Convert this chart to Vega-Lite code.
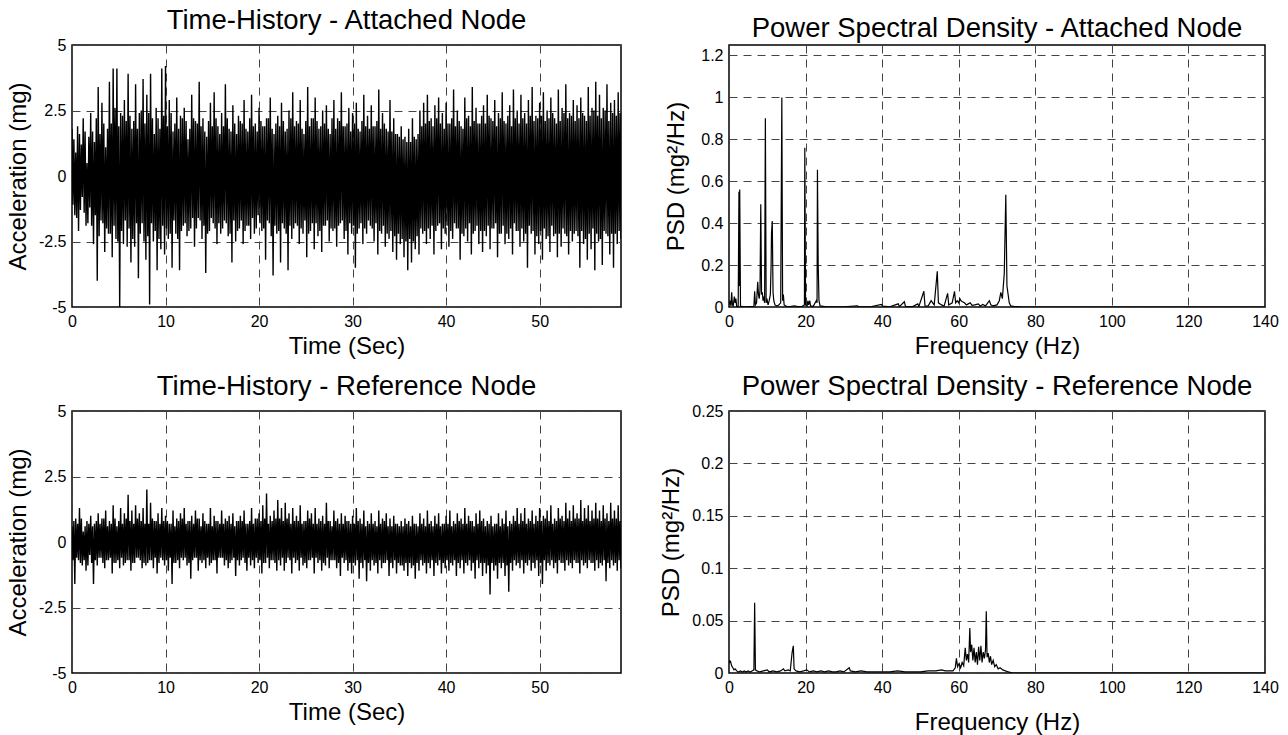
{
"$schema":"https://vega.github.io/schema/vega-lite/v6.json",
"background":"white",
"padding":{"left":5,"top":5,"right":5,"bottom":5},
"config":{
 "font":"Liberation Sans",
 "view":{"stroke":"black","strokeWidth":1.5},
 "axis":{"domain":false,"ticks":false,"grid":true,"gridDash":[8,6],"gridColor":"#444","gridWidth":1,"labelFont":"Liberation Sans","labelFontSize":16,"labelColor":"black","labelFlush":false,"labelOverlap":false,"titleFont":"Liberation Sans","titleFontSize":24,"titleFontWeight":"normal","titleColor":"black","labelPadding":6,"titlePadding":8,"labelExpr":"replace(format(datum.value,'~g'),'−','-')"},
 "axisX":{"titlePadding":5},
 "title":{"font":"Liberation Sans","fontSize":27.5,"fontWeight":"normal","color":"black","offset":3,"anchor":"middle"}
},
"datasets":{
"th":[
{"t":0,"a":1.8,"r":0.6},{"t":0.1,"a":-1.1,"r":-0.7},{"t":0.2,"a":1.4,"r":0.8},{"t":0.3,"a":-1.5,"r":-1.6},{"t":0.4,"a":0.9,"r":0.9},{"t":0.5,"a":-1.6,"r":-0.6},{"t":0.6,"a":1.9,"r":0.7},{"t":0.7,"a":-2.1,"r":-0.7},{"t":0.8,"a":1.6,"r":1.3},{"t":0.9,"a":-1.3,"r":-0.8},{"t":1,"a":1.2,"r":0.9},{"t":1.1,"a":-0.8,"r":-0.9},{"t":1.2,"a":2.2,"r":0.4},{"t":1.3,"a":-1.4,"r":-0.7},{"t":1.4,"a":1.7,"r":0.6},{"t":1.5,"a":-1.9,"r":-1.1},{"t":1.6,"a":0.5,"r":0.8},{"t":1.7,"a":-1.8,"r":-0.9},{"t":1.8,"a":1.5,"r":0.7},{"t":1.9,"a":-1.2,"r":-0.5},
{"t":2,"a":2.4,"r":1.0},{"t":2.1,"a":-1.9,"r":-0.8},{"t":2.2,"a":1.7,"r":0.6},{"t":2.3,"a":-2.6,"r":-1.6},{"t":2.4,"a":1.3,"r":0.7},{"t":2.5,"a":-1.5,"r":-0.7},{"t":2.6,"a":2.2,"r":0.8},{"t":2.7,"a":-4.0,"r":-0.9},{"t":2.8,"a":3.4,"r":1.1},{"t":2.9,"a":-2.3,"r":-0.6},{"t":3,"a":1.6,"r":0.7},{"t":3.1,"a":-1.7,"r":-0.6},{"t":3.2,"a":2.8,"r":0.9},{"t":3.3,"a":-1.8,"r":-0.8},{"t":3.4,"a":2.0,"r":0.9},{"t":3.5,"a":-2.9,"r":-1.0},{"t":3.6,"a":1.1,"r":1.2},{"t":3.7,"a":-2.0,"r":-0.7},{"t":3.8,"a":1.8,"r":0.6},{"t":3.9,"a":-2.2,"r":-0.7},
{"t":4,"a":3.6,"r":0.8},{"t":4.1,"a":-2.2,"r":-0.6},{"t":4.2,"a":2.0,"r":0.7},{"t":4.3,"a":-3.1,"r":-1.2},{"t":4.4,"a":4.1,"r":1.4},{"t":4.5,"a":-1.9,"r":-0.8},{"t":4.6,"a":2.6,"r":0.9},{"t":4.7,"a":-2.4,"r":-0.8},{"t":4.8,"a":4.1,"r":0.6},{"t":4.9,"a":-2.5,"r":-0.7},{"t":5,"a":1.9,"r":0.8},{"t":5.1,"a":-5.0,"r":-1.0},{"t":5.2,"a":2.4,"r":1.3},{"t":5.3,"a":-2.1,"r":-0.6},{"t":5.4,"a":2.3,"r":0.7},{"t":5.5,"a":-2.6,"r":-0.9},{"t":5.6,"a":2.9,"r":1.1},{"t":5.7,"a":-1.7,"r":-0.8},{"t":5.8,"a":2.1,"r":0.9},{"t":5.9,"a":-2.7,"r":-0.7},
{"t":6,"a":3.9,"r":1.8},{"t":6.1,"a":-2.0,"r":-0.7},{"t":6.2,"a":2.3,"r":0.8},{"t":6.3,"a":-3.3,"r":-1.1},{"t":6.4,"a":1.8,"r":1.2},{"t":6.5,"a":-2.4,"r":-0.8},{"t":6.6,"a":2.1,"r":0.7},{"t":6.7,"a":-2.7,"r":-0.8},{"t":6.8,"a":3.5,"r":1.4},{"t":6.9,"a":-1.8,"r":-0.6},{"t":7,"a":1.8,"r":0.9},{"t":7.1,"a":-3.9,"r":-0.6},{"t":7.2,"a":2.4,"r":1.1},{"t":7.3,"a":-2.2,"r":-0.7},{"t":7.4,"a":2.5,"r":0.8},{"t":7.5,"a":-1.8,"r":-1.0},{"t":7.6,"a":3.7,"r":1.3},{"t":7.7,"a":-2.5,"r":-0.8},{"t":7.8,"a":2.0,"r":0.7},{"t":7.9,"a":-3.2,"r":-0.9},
{"t":8,"a":3.1,"r":2.0},{"t":8.1,"a":-2.3,"r":-0.8},{"t":8.2,"a":2.4,"r":0.7},{"t":8.3,"a":-4.9,"r":-0.7},{"t":8.4,"a":3.9,"r":1.5},{"t":8.5,"a":-1.8,"r":-0.7},{"t":8.6,"a":2.2,"r":0.9},{"t":8.7,"a":-2.5,"r":-1.0},{"t":8.8,"a":1.6,"r":0.8},{"t":8.9,"a":-2.1,"r":-0.6},{"t":9,"a":2.6,"r":0.8},{"t":9.1,"a":-3.6,"r":-1.2},{"t":9.2,"a":2.2,"r":1.1},{"t":9.3,"a":-2.4,"r":-0.8},{"t":9.4,"a":1.8,"r":0.7},{"t":9.5,"a":-2.8,"r":-0.6},{"t":9.6,"a":4.1,"r":1.3},{"t":9.7,"a":-1.9,"r":-0.7},{"t":9.8,"a":2.3,"r":0.8},{"t":9.9,"a":-3.0,"r":-0.9},
{"t":10,"a":4.2,"r":1.0},{"t":10.1,"a":-2.0,"r":-0.7},{"t":10.2,"a":1.9,"r":0.8},{"t":10.3,"a":-2.4,"r":-1.1},{"t":10.4,"a":2.9,"r":0.7},{"t":10.5,"a":-2.2,"r":-0.6},{"t":10.6,"a":2.4,"r":0.7},{"t":10.7,"a":-3.5,"r":-1.6},{"t":10.8,"a":1.7,"r":1.2},{"t":10.9,"a":-1.7,"r":-0.8},{"t":11,"a":2.0,"r":0.6},{"t":11.1,"a":-2.2,"r":-0.8},{"t":11.2,"a":3.0,"r":0.9},{"t":11.3,"a":-2.4,"r":-0.7},{"t":11.4,"a":1.8,"r":0.8},{"t":11.5,"a":-3.6,"r":-1.0},{"t":11.6,"a":2.3,"r":1.1},{"t":11.7,"a":-2.1,"r":-0.6},{"t":11.8,"a":2.2,"r":0.9},{"t":11.9,"a":-1.9,"r":-0.7},
{"t":12,"a":2.6,"r":1.3},{"t":12.1,"a":-1.8,"r":-0.6},{"t":12.2,"a":2.1,"r":0.7},{"t":12.3,"a":-2.3,"r":-0.9},{"t":12.4,"a":1.4,"r":0.8},{"t":12.5,"a":-2.1,"r":-0.8},{"t":12.6,"a":1.8,"r":0.8},{"t":12.7,"a":-2.0,"r":-1.4},{"t":12.8,"a":3.1,"r":1.0},{"t":12.9,"a":-1.6,"r":-0.7},{"t":13,"a":2.2,"r":0.7},{"t":13.1,"a":-2.7,"r":-0.6},{"t":13.2,"a":2.1,"r":1.2},{"t":13.3,"a":-2.0,"r":-0.6},{"t":13.4,"a":2.0,"r":0.9},{"t":13.5,"a":-1.6,"r":-1.1},{"t":13.6,"a":3.6,"r":0.9},{"t":13.7,"a":-1.7,"r":-0.7},{"t":13.8,"a":1.9,"r":0.6},{"t":13.9,"a":-2.4,"r":-0.8},
{"t":14,"a":2.2,"r":1.1},{"t":14.1,"a":-1.9,"r":-0.7},{"t":14.2,"a":1.7,"r":0.8},{"t":14.3,"a":-3.7,"r":-1.0},{"t":14.4,"a":1.5,"r":0.7},{"t":14.5,"a":-2.2,"r":-0.6},{"t":14.6,"a":2.1,"r":0.7},{"t":14.7,"a":-2.1,"r":-0.9},{"t":14.8,"a":2.8,"r":1.3},{"t":14.9,"a":-1.6,"r":-0.8},{"t":15,"a":1.9,"r":0.6},{"t":15.1,"a":-1.8,"r":-0.7},{"t":15.2,"a":3.2,"r":1.0},{"t":15.3,"a":-2.0,"r":-0.7},{"t":15.4,"a":2.2,"r":0.8},{"t":15.5,"a":-2.6,"r":-1.2},{"t":15.6,"a":1.9,"r":0.8},{"t":15.7,"a":-1.8,"r":-0.6},{"t":15.8,"a":1.6,"r":0.7},{"t":15.9,"a":-2.2,"r":-0.6},
{"t":16,"a":2.4,"r":1.2},{"t":16.1,"a":-2.0,"r":-0.6},{"t":16.2,"a":1.9,"r":0.7},{"t":16.3,"a":-1.7,"r":-0.9},{"t":16.4,"a":3.5,"r":0.9},{"t":16.5,"a":-1.8,"r":-0.7},{"t":16.6,"a":2.2,"r":0.8},{"t":16.7,"a":-2.3,"r":-1.0},{"t":16.8,"a":1.8,"r":1.0},{"t":16.9,"a":-2.2,"r":-0.8},{"t":17,"a":1.7,"r":0.7},{"t":17.1,"a":-3.3,"r":-0.7},{"t":17.2,"a":2.7,"r":1.1},{"t":17.3,"a":-1.7,"r":-0.6},{"t":17.4,"a":2.0,"r":0.6},{"t":17.5,"a":-2.5,"r":-1.3},{"t":17.6,"a":1.6,"r":0.8},{"t":17.7,"a":-2.1,"r":-0.7},{"t":17.8,"a":2.3,"r":0.8},{"t":17.9,"a":-2.0,"r":-0.9},
{"t":18,"a":2.1,"r":1.0},{"t":18.1,"a":-1.7,"r":-0.7},{"t":18.2,"a":2.0,"r":0.8},{"t":18.3,"a":-2.6,"r":-0.6},{"t":18.4,"a":2.9,"r":1.2},{"t":18.5,"a":-2.1,"r":-0.8},{"t":18.6,"a":1.8,"r":0.7},{"t":18.7,"a":-1.9,"r":-1.1},{"t":18.8,"a":1.7,"r":0.7},{"t":18.9,"a":-1.9,"r":-0.6},{"t":19,"a":2.2,"r":0.8},{"t":19.1,"a":-2.4,"r":-0.9},{"t":19.2,"a":3.1,"r":1.3},{"t":19.3,"a":-1.6,"r":-0.7},{"t":19.4,"a":1.9,"r":0.7},{"t":19.5,"a":-2.2,"r":-1.0},{"t":19.6,"a":2.0,"r":0.9},{"t":19.7,"a":-2.0,"r":-0.6},{"t":19.8,"a":1.7,"r":0.9},{"t":19.9,"a":-1.5,"r":-0.8},
{"t":20,"a":2.6,"r":1.1},{"t":20.1,"a":-1.8,"r":-0.7},{"t":20.2,"a":2.1,"r":0.8},{"t":20.3,"a":-2.1,"r":-1.2},{"t":20.4,"a":1.9,"r":1.4},{"t":20.5,"a":-2.0,"r":-0.8},{"t":20.6,"a":1.9,"r":0.9},{"t":20.7,"a":-3.2,"r":-0.8},{"t":20.8,"a":2.2,"r":1.85},{"t":20.9,"a":-1.7,"r":-0.6},{"t":21,"a":2.2,"r":0.7},{"t":21.1,"a":-1.8,"r":-1.0},{"t":21.2,"a":3.0,"r":1.0},{"t":21.3,"a":-2.3,"r":-0.7},{"t":21.4,"a":1.8,"r":0.8},{"t":21.5,"a":-3.8,"r":-0.7},{"t":21.6,"a":1.6,"r":1.2},{"t":21.7,"a":-1.9,"r":-0.8},{"t":21.8,"a":2.0,"r":0.9},{"t":21.9,"a":-2.2,"r":-1.1},
{"t":22,"a":2.3,"r":1.6},{"t":22.1,"a":-2.1,"r":-0.7},{"t":22.2,"a":1.9,"r":0.9},{"t":22.3,"a":-3.3,"r":-0.9},{"t":22.4,"a":2.8,"r":1.3},{"t":22.5,"a":-1.8,"r":-0.6},{"t":22.6,"a":2.1,"r":0.8},{"t":22.7,"a":-2.0,"r":-1.1},{"t":22.8,"a":1.7,"r":1.5},{"t":22.9,"a":-2.2,"r":-0.8},{"t":23,"a":1.8,"r":0.9},{"t":23.1,"a":-3.6,"r":-0.6},{"t":23.2,"a":2.5,"r":1.1},{"t":23.3,"a":-1.9,"r":-0.7},{"t":23.4,"a":2.2,"r":0.7},{"t":23.5,"a":-2.4,"r":-1.2},{"t":23.6,"a":3.2,"r":1.3},{"t":23.7,"a":-2.0,"r":-0.6},{"t":23.8,"a":1.9,"r":0.8},{"t":23.9,"a":-1.8,"r":-0.8},
{"t":24,"a":2.1,"r":1.0},{"t":24.1,"a":-1.9,"r":-0.7},{"t":24.2,"a":2.0,"r":0.8},{"t":24.3,"a":-2.6,"r":-1.1},{"t":24.4,"a":2.9,"r":1.4},{"t":24.5,"a":-2.0,"r":-0.6},{"t":24.6,"a":1.8,"r":0.7},{"t":24.7,"a":-2.2,"r":-0.9},{"t":24.8,"a":1.6,"r":0.8},{"t":24.9,"a":-1.7,"r":-0.8},{"t":25,"a":2.1,"r":0.8},{"t":25.1,"a":-3.1,"r":-1.0},{"t":25.2,"a":3.4,"r":1.2},{"t":25.3,"a":-2.2,"r":-0.7},{"t":25.4,"a":1.9,"r":0.9},{"t":25.5,"a":-2.1,"r":-0.7},{"t":25.6,"a":2.2,"r":1.1},{"t":25.7,"a":-1.8,"r":-0.6},{"t":25.8,"a":2.2,"r":0.7},{"t":25.9,"a":-2.8,"r":-1.2},
{"t":26,"a":3.0,"r":1.3},{"t":26.1,"a":-1.8,"r":-0.6},{"t":26.2,"a":2.1,"r":0.7},{"t":26.3,"a":-2.3,"r":-0.8},{"t":26.4,"a":1.8,"r":0.9},{"t":26.5,"a":-2.1,"r":-0.7},{"t":26.6,"a":1.9,"r":0.8},{"t":26.7,"a":-2.9,"r":-1.1},{"t":26.8,"a":2.5,"r":1.0},{"t":26.9,"a":-1.9,"r":-0.8},{"t":27,"a":2.0,"r":0.7},{"t":27.1,"a":-1.9,"r":-0.9},{"t":27.2,"a":2.7,"r":1.5},{"t":27.3,"a":-1.7,"r":-0.6},{"t":27.4,"a":1.8,"r":0.8},{"t":27.5,"a":-2.5,"r":-1.0},{"t":27.6,"a":1.6,"r":0.8},{"t":27.7,"a":-2.0,"r":-0.7},{"t":27.8,"a":2.2,"r":0.6},{"t":27.9,"a":-2.1,"r":-0.7},
{"t":28,"a":2.9,"r":1.2},{"t":28.1,"a":-2.0,"r":-0.7},{"t":28.2,"a":1.8,"r":0.8},{"t":28.3,"a":-2.7,"r":-1.0},{"t":28.4,"a":2.2,"r":0.9},{"t":28.5,"a":-1.9,"r":-0.8},{"t":28.6,"a":2.1,"r":0.7},{"t":28.7,"a":-1.8,"r":-1.3},{"t":28.8,"a":3.2,"r":1.1},{"t":28.9,"a":-1.7,"r":-0.6},{"t":29,"a":1.9,"r":0.7},{"t":29.1,"a":-2.4,"r":-0.8},{"t":29.2,"a":1.9,"r":1.0},{"t":29.3,"a":-2.1,"r":-0.7},{"t":29.4,"a":2.0,"r":0.8},{"t":29.5,"a":-3.0,"r":-1.1},{"t":29.6,"a":2.6,"r":0.8},{"t":29.7,"a":-1.8,"r":-0.8},{"t":29.8,"a":1.7,"r":0.7},{"t":29.9,"a":-2.2,"r":-1.2},
{"t":30,"a":2.4,"r":1.0},{"t":30.1,"a":-1.9,"r":-0.8},{"t":30.2,"a":2.0,"r":0.7},{"t":30.3,"a":-3.5,"r":-0.9},{"t":30.4,"a":2.8,"r":1.3},{"t":30.5,"a":-2.2,"r":-0.7},{"t":30.6,"a":1.8,"r":0.8},{"t":30.7,"a":-2.0,"r":-1.4},{"t":30.8,"a":1.7,"r":0.9},{"t":30.9,"a":-1.8,"r":-0.8},{"t":31,"a":2.1,"r":0.7},{"t":31.1,"a":-2.6,"r":-1.0},{"t":31.2,"a":3.1,"r":1.2},{"t":31.3,"a":-2.0,"r":-0.7},{"t":31.4,"a":1.9,"r":0.6},{"t":31.5,"a":-2.2,"r":-1.5},{"t":31.6,"a":2.3,"r":0.8},{"t":31.7,"a":-1.7,"r":-0.8},{"t":31.8,"a":1.8,"r":0.7},{"t":31.9,"a":-1.9,"r":-1.1},
{"t":32,"a":2.7,"r":1.1},{"t":32.1,"a":-2.0,"r":-0.7},{"t":32.2,"a":1.9,"r":0.7},{"t":32.3,"a":-2.5,"r":-0.9},{"t":32.4,"a":1.9,"r":0.8},{"t":32.5,"a":-1.8,"r":-0.8},{"t":32.6,"a":2.1,"r":0.6},{"t":32.7,"a":-3.0,"r":-1.2},{"t":32.8,"a":3.3,"r":1.2},{"t":32.9,"a":-2.1,"r":-0.7},{"t":33,"a":1.8,"r":0.7},{"t":33.1,"a":-2.2,"r":-1.0},{"t":33.2,"a":2.4,"r":0.9},{"t":33.3,"a":-1.9,"r":-0.8},{"t":33.4,"a":2.0,"r":0.8},{"t":33.5,"a":-2.7,"r":-0.8},{"t":33.6,"a":1.8,"r":1.1},{"t":33.7,"a":-2.2,"r":-0.7},{"t":33.8,"a":1.7,"r":0.6},{"t":33.9,"a":-2.4,"r":-1.3},
{"t":34,"a":2.9,"r":0.9},{"t":34.1,"a":-2.1,"r":-0.8},{"t":34.2,"a":1.7,"r":0.6},{"t":34.3,"a":-2.9,"r":-1.0},{"t":34.4,"a":2.2,"r":1.0},{"t":34.5,"a":-2.3,"r":-0.7},{"t":34.6,"a":1.6,"r":0.7},{"t":34.7,"a":-3.2,"r":-1.2},{"t":34.8,"a":1.6,"r":0.7},{"t":34.9,"a":-2.2,"r":-0.8},{"t":35,"a":1.5,"r":0.6},{"t":35.1,"a":-2.6,"r":-0.9},{"t":35.2,"a":1.9,"r":0.8},{"t":35.3,"a":-2.4,"r":-0.9},{"t":35.4,"a":1.4,"r":0.6},{"t":35.5,"a":-3.1,"r":-1.1},{"t":35.6,"a":1.5,"r":0.9},{"t":35.7,"a":-2.5,"r":-0.8},{"t":35.8,"a":1.3,"r":0.7},{"t":35.9,"a":-3.6,"r":-1.3},
{"t":36,"a":1.8,"r":0.8},{"t":36.1,"a":-2.4,"r":-0.8},{"t":36.2,"a":1.3,"r":0.6},{"t":36.3,"a":-3.3,"r":-1.0},{"t":36.4,"a":2.2,"r":1.0},{"t":36.5,"a":-2.5,"r":-0.9},{"t":36.6,"a":1.5,"r":0.7},{"t":36.7,"a":-2.8,"r":-1.4},{"t":36.8,"a":1.4,"r":0.7},{"t":36.9,"a":-2.3,"r":-0.8},{"t":37,"a":1.6,"r":0.6},{"t":37.1,"a":-3.0,"r":-1.1},{"t":37.2,"a":2.5,"r":1.1},{"t":37.3,"a":-2.0,"r":-0.7},{"t":37.4,"a":1.9,"r":0.7},{"t":37.5,"a":-2.2,"r":-0.9},{"t":37.6,"a":2.8,"r":0.9},{"t":37.7,"a":-2.1,"r":-0.8},{"t":37.8,"a":2.0,"r":0.6},{"t":37.9,"a":-2.6,"r":-1.2},
{"t":38,"a":3.1,"r":1.2},{"t":38.1,"a":-2.0,"r":-0.8},{"t":38.2,"a":2.1,"r":0.7},{"t":38.3,"a":-2.4,"r":-1.0},{"t":38.4,"a":2.2,"r":0.8},{"t":38.5,"a":-1.9,"r":-0.7},{"t":38.6,"a":1.9,"r":0.6},{"t":38.7,"a":-3.0,"r":-1.3},{"t":38.8,"a":2.7,"r":1.0},{"t":38.9,"a":-2.1,"r":-0.8},{"t":39,"a":2.2,"r":0.7},{"t":39.1,"a":-1.9,"r":-0.9},{"t":39.2,"a":3.0,"r":1.1},{"t":39.3,"a":-1.8,"r":-0.7},{"t":39.4,"a":2.0,"r":0.6},{"t":39.5,"a":-2.8,"r":-1.2},{"t":39.6,"a":2.4,"r":0.7},{"t":39.7,"a":-2.0,"r":-0.8},{"t":39.8,"a":1.8,"r":0.7},{"t":39.9,"a":-2.2,"r":-1.0},
{"t":40,"a":2.8,"r":1.0},{"t":40.1,"a":-1.9,"r":-0.7},{"t":40.2,"a":2.0,"r":0.7},{"t":40.3,"a":-2.7,"r":-1.1},{"t":40.4,"a":2.0,"r":1.2},{"t":40.5,"a":-2.1,"r":-0.8},{"t":40.6,"a":2.2,"r":0.6},{"t":40.7,"a":-2.4,"r":-0.9},{"t":40.8,"a":3.3,"r":0.8},{"t":40.9,"a":-1.8,"r":-0.7},{"t":41,"a":1.9,"r":0.7},{"t":41.1,"a":-2.0,"r":-1.3},{"t":41.2,"a":2.5,"r":1.1},{"t":41.3,"a":-2.0,"r":-0.8},{"t":41.4,"a":2.1,"r":0.8},{"t":41.5,"a":-3.2,"r":-1.0},{"t":41.6,"a":1.9,"r":0.9},{"t":41.7,"a":-2.2,"r":-0.7},{"t":41.8,"a":1.8,"r":0.7},{"t":41.9,"a":-2.3,"r":-1.2},
{"t":42,"a":3.0,"r":1.3},{"t":42.1,"a":-2.0,"r":-0.8},{"t":42.2,"a":2.2,"r":0.7},{"t":42.3,"a":-2.5,"r":-0.9},{"t":42.4,"a":2.3,"r":1.0},{"t":42.5,"a":-1.8,"r":-0.7},{"t":42.6,"a":1.9,"r":0.8},{"t":42.7,"a":-3.0,"r":-1.1},{"t":42.8,"a":3.4,"r":0.8},{"t":42.9,"a":-2.2,"r":-0.8},{"t":43,"a":2.1,"r":0.6},{"t":43.1,"a":-2.1,"r":-1.4},{"t":43.2,"a":2.6,"r":1.1},{"t":43.3,"a":-1.9,"r":-0.7},{"t":43.4,"a":2.0,"r":0.7},{"t":43.5,"a":-2.6,"r":-1.0},{"t":43.6,"a":2.0,"r":1.2},{"t":43.7,"a":-2.1,"r":-0.8},{"t":43.8,"a":2.3,"r":0.8},{"t":43.9,"a":-2.9,"r":-1.3},
{"t":44,"a":2.7,"r":0.9},{"t":44.1,"a":-2.1,"r":-0.8},{"t":44.2,"a":2.0,"r":0.6},{"t":44.3,"a":-2.3,"r":-1.2},{"t":44.4,"a":3.1,"r":0.8},{"t":44.5,"a":-1.9,"r":-0.9},{"t":44.6,"a":2.3,"r":0.7},{"t":44.7,"a":-2.8,"r":-2.0},{"t":44.8,"a":2.2,"r":1.0},{"t":44.9,"a":-2.0,"r":-0.8},{"t":45,"a":2.1,"r":0.6},{"t":45.1,"a":-2.0,"r":-1.1},{"t":45.2,"a":2.9,"r":0.7},{"t":45.3,"a":-1.8,"r":-0.9},{"t":45.4,"a":1.9,"r":0.7},{"t":45.5,"a":-3.1,"r":-1.4},{"t":45.6,"a":2.4,"r":1.1},{"t":45.7,"a":-2.2,"r":-0.8},{"t":45.8,"a":2.2,"r":0.6},{"t":45.9,"a":-2.2,"r":-1.0},
{"t":46,"a":3.2,"r":0.9},{"t":46.1,"a":-1.9,"r":-0.8},{"t":46.2,"a":2.1,"r":0.7},{"t":46.3,"a":-2.6,"r":-1.3},{"t":46.4,"a":2.0,"r":1.2},{"t":46.5,"a":-2.2,"r":-0.9},{"t":46.6,"a":2.3,"r":0.6},{"t":46.7,"a":-2.4,"r":-1.9},{"t":46.8,"a":2.7,"r":0.8},{"t":46.9,"a":-2.0,"r":-0.8},{"t":47,"a":1.9,"r":0.7},{"t":47.1,"a":-3.0,"r":-1.1},{"t":47.2,"a":3.3,"r":1.0},{"t":47.3,"a":-1.8,"r":-0.7},{"t":47.4,"a":2.2,"r":0.8},{"t":47.5,"a":-2.1,"r":-0.9},{"t":47.6,"a":2.5,"r":1.3},{"t":47.7,"a":-2.1,"r":-0.8},{"t":47.8,"a":2.0,"r":0.7},{"t":47.9,"a":-2.7,"r":-1.0},
{"t":48,"a":3.1,"r":1.1},{"t":48.1,"a":-2.0,"r":-0.7},{"t":48.2,"a":2.2,"r":0.8},{"t":48.3,"a":-2.5,"r":-1.2},{"t":48.4,"a":2.4,"r":1.3},{"t":48.5,"a":-2.2,"r":-0.8},{"t":48.6,"a":2.0,"r":0.7},{"t":48.7,"a":-3.5,"r":-0.9},{"t":48.8,"a":2.9,"r":0.9},{"t":48.9,"a":-1.9,"r":-0.7},{"t":49,"a":2.3,"r":0.8},{"t":49.1,"a":-2.2,"r":-1.1},{"t":49.2,"a":3.4,"r":1.2},{"t":49.3,"a":-2.1,"r":-0.8},{"t":49.4,"a":2.1,"r":0.7},{"t":49.5,"a":-3.0,"r":-1.0},{"t":49.6,"a":2.3,"r":1.0},{"t":49.7,"a":-2.3,"r":-0.7},{"t":49.8,"a":2.2,"r":0.8},{"t":49.9,"a":-2.6,"r":-1.3},
{"t":50,"a":2.8,"r":1.3},{"t":50.1,"a":-2.1,"r":-0.8},{"t":50.2,"a":2.3,"r":0.8},{"t":50.3,"a":-3.2,"r":-1.6},{"t":50.4,"a":3.2,"r":1.0},{"t":50.5,"a":-2.0,"r":-0.7},{"t":50.6,"a":2.1,"r":0.9},{"t":50.7,"a":-2.4,"r":-1.1},{"t":50.8,"a":2.5,"r":1.2},{"t":50.9,"a":-2.3,"r":-0.8},{"t":51,"a":2.2,"r":0.8},{"t":51.1,"a":-2.9,"r":-0.9},{"t":51.2,"a":3.0,"r":1.4},{"t":51.3,"a":-1.9,"r":-0.7},{"t":51.4,"a":2.4,"r":0.7},{"t":51.5,"a":-2.3,"r":-1.0},{"t":51.6,"a":2.2,"r":0.9},{"t":51.7,"a":-2.2,"r":-0.8},{"t":51.8,"a":2.0,"r":0.8},{"t":51.9,"a":-3.1,"r":-1.2},
{"t":52,"a":3.3,"r":1.3},{"t":52.1,"a":-2.2,"r":-0.7},{"t":52.2,"a":2.1,"r":0.9},{"t":52.3,"a":-2.7,"r":-0.8},{"t":52.4,"a":2.6,"r":1.0},{"t":52.5,"a":-2.0,"r":-0.8},{"t":52.6,"a":2.4,"r":0.8},{"t":52.7,"a":-2.2,"r":-1.1},{"t":52.8,"a":3.5,"r":1.5},{"t":52.9,"a":-2.3,"r":-0.7},{"t":53,"a":2.2,"r":0.9},{"t":53.1,"a":-3.0,"r":-0.9},{"t":53.2,"a":2.4,"r":1.2},{"t":53.3,"a":-2.1,"r":-0.8},{"t":53.4,"a":2.3,"r":0.8},{"t":53.5,"a":-2.5,"r":-1.0},{"t":53.6,"a":2.9,"r":1.4},{"t":53.7,"a":-2.2,"r":-0.7},{"t":53.8,"a":2.1,"r":0.9},{"t":53.9,"a":-2.1,"r":-0.8},
{"t":54,"a":2.7,"r":1.1},{"t":54.1,"a":-2.3,"r":-0.8},{"t":54.2,"a":2.2,"r":0.9},{"t":54.3,"a":-3.5,"r":-1.2},{"t":54.4,"a":3.0,"r":1.6},{"t":54.5,"a":-2.1,"r":-0.7},{"t":54.6,"a":2.4,"r":0.8},{"t":54.7,"a":-2.6,"r":-0.9},{"t":54.8,"a":2.3,"r":1.3},{"t":54.9,"a":-2.4,"r":-0.8},{"t":55,"a":2.1,"r":0.9},{"t":55.1,"a":-3.2,"r":-1.0},{"t":55.2,"a":3.4,"r":1.4},{"t":55.3,"a":-2.2,"r":-0.7},{"t":55.4,"a":2.3,"r":0.8},{"t":55.5,"a":-2.8,"r":-0.8},{"t":55.6,"a":2.6,"r":1.2},{"t":55.7,"a":-2.0,"r":-0.8},{"t":55.8,"a":2.5,"r":0.9},{"t":55.9,"a":-3.6,"r":-1.1},
{"t":56,"a":3.6,"r":1.5},{"t":56.1,"a":-2.2,"r":-0.7},{"t":56.2,"a":2.3,"r":0.9},{"t":56.3,"a":-2.5,"r":-1.0},{"t":56.4,"a":3.1,"r":1.2},{"t":56.5,"a":-2.4,"r":-0.8},{"t":56.6,"a":2.2,"r":0.8},{"t":56.7,"a":-3.4,"r":-0.9},{"t":56.8,"a":2.6,"r":1.4},{"t":56.9,"a":-2.1,"r":-0.7},{"t":57,"a":2.5,"r":0.9},{"t":57.1,"a":-2.2,"r":-1.5},{"t":57.2,"a":3.5,"r":1.1},{"t":57.3,"a":-2.3,"r":-0.8},{"t":57.4,"a":2.1,"r":0.8},{"t":57.5,"a":-3.0,"r":-1.0},{"t":57.6,"a":2.8,"r":1.5},{"t":57.7,"a":-2.2,"r":-0.7},{"t":57.8,"a":2.4,"r":0.9},{"t":57.9,"a":-3.5,"r":-0.9},
{"t":58,"a":2.9,"r":1.2},{"t":58.1,"a":-2.2,"r":-0.8},{"t":58.2,"a":2.3,"r":0.9},{"t":58.3,"a":-2.6,"r":-1.1},{"t":58.4,"a":3.2,"r":1.4},{"t":58.5,"a":-2.1,"r":-0.7},{"t":58.6,"a":2.4,"r":0.8},{"t":58.7,"a":-2.4,"r":-1.0}
],
"psdA":[
{"f":0,"p":0.01},{"f":0.3,"p":0.03},{"f":0.5,"p":0.005},{"f":0.7,"p":0.07},{"f":0.9,"p":0.01},{"f":1.1,"p":0.005},{"f":1.4,"p":0.05},{"f":1.6,"p":0.02},{"f":1.8,"p":0.04},{"f":2.0,"p":0.003},{"f":2.4,"p":0.002},{"f":2.6,"p":0.55},{"f":2.7,"p":0.1},{"f":2.8,"p":0.56},{"f":3.0,"p":0.004},{"f":3.5,"p":0.002},{"f":4.5,"p":0.001},{"f":5.5,"p":0.002},{"f":6.5,"p":0.003},{"f":6.7,"p":0.075},{"f":6.9,"p":0.01},{"f":7.2,"p":0.02},{"f":7.5,"p":0.12},{"f":7.7,"p":0.06},{"f":7.9,"p":0.04},{"f":8.1,"p":0.08},{"f":8.3,"p":0.49},{"f":8.5,"p":0.06},{"f":8.7,"p":0.07},{"f":8.9,"p":0.03},{"f":9.1,"p":0.05},{"f":9.3,"p":0.02},{"f":9.5,"p":0.9},{"f":9.7,"p":0.02},{"f":9.9,"p":0.04},{"f":10.2,"p":0.01},{"f":10.5,"p":0.03},{"f":10.8,"p":0.06},{"f":11.0,"p":0.2},{"f":11.1,"p":0.35},{"f":11.3,"p":0.41},{"f":11.5,"p":0.07},{"f":11.7,"p":0.03},{"f":12.0,"p":0.01},{"f":12.5,"p":0.005},{"f":13.0,"p":0.01},{"f":13.5,"p":0.02},{"f":13.8,"p":1.0},{"f":14.0,"p":0.03},{"f":14.2,"p":0.06},{"f":14.4,"p":0.01},{"f":15,"p":0.003},{"f":16,"p":0.002},{"f":17,"p":0.006},{"f":18,"p":0.002},{"f":19,"p":0.002},{"f":19.7,"p":0.01},{"f":19.8,"p":0.76},{"f":20.0,"p":0.01},{"f":20.4,"p":0.005},{"f":20.6,"p":0.03},{"f":20.8,"p":0.01},{"f":21.1,"p":0.03},{"f":21.3,"p":0.005},{"f":22,"p":0.003},{"f":22.8,"p":0.03},{"f":23.0,"p":0.02},{"f":23.1,"p":0.655},{"f":23.3,"p":0.2},{"f":23.5,"p":0.03},{"f":23.8,"p":0.005},{"f":25,"p":0.002},{"f":28,"p":0.001},{"f":30,"p":0.001},{"f":33.5,"p":0.006},{"f":34,"p":0.001},{"f":37,"p":0.001},{"f":39.8,"p":0.012},{"f":40.2,"p":0.004},{"f":42,"p":0.001},{"f":44.2,"p":0.015},{"f":44.5,"p":0.002},{"f":45.8,"p":0.025},{"f":46.1,"p":0.003},{"f":48,"p":0.002},{"f":49.3,"p":0.015},{"f":49.6,"p":0.003},{"f":50.9,"p":0.075},{"f":51.2,"p":0.005},{"f":52,"p":0.004},{"f":52.8,"p":0.03},{"f":53.2,"p":0.02},{"f":53.6,"p":0.01},{"f":54.4,"p":0.17},{"f":54.7,"p":0.02},{"f":55.5,"p":0.01},{"f":56.2,"p":0.005},{"f":57.1,"p":0.065},{"f":57.4,"p":0.01},{"f":58.3,"p":0.02},{"f":58.9,"p":0.075},{"f":59.2,"p":0.02},{"f":59.6,"p":0.03},{"f":60.0,"p":0.02},{"f":60.3,"p":0.04},{"f":60.6,"p":0.03},{"f":61,"p":0.025},{"f":61.5,"p":0.02},{"f":62,"p":0.01},{"f":62.5,"p":0.015},{"f":63,"p":0.02},{"f":63.5,"p":0.008},{"f":64.2,"p":0.01},{"f":65.1,"p":0.015},{"f":65.6,"p":0.005},{"f":66.3,"p":0.012},{"f":67,"p":0.005},{"f":68,"p":0.03},{"f":68.4,"p":0.01},{"f":69,"p":0.005},{"f":70,"p":0.01},{"f":70.6,"p":0.03},{"f":71.0,"p":0.07},{"f":71.4,"p":0.04},{"f":71.9,"p":0.16},{"f":72.3,"p":0.535},{"f":72.6,"p":0.1},{"f":72.9,"p":0.06},{"f":73.2,"p":0.02},{"f":73.6,"p":0.005},{"f":74.5,"p":0.002},{"f":76,"p":0.001},{"f":80,"p":0},{"f":100,"p":0},{"f":140,"p":0}
],
"psdR":[
{"f":0,"p":0.012},{"f":0.2,"p":0.01},{"f":0.4,"p":0.011},{"f":0.6,"p":0.008},{"f":0.8,"p":0.006},{"f":1.0,"p":0.005},{"f":1.3,"p":0.003},{"f":1.6,"p":0.004},{"f":2,"p":0.002},{"f":2.5,"p":0.001},{"f":3,"p":0.002},{"f":3.5,"p":0.001},{"f":4,"p":0.002},{"f":4.5,"p":0.001},{"f":5,"p":0.002},{"f":5.5,"p":0.001},{"f":6,"p":0.002},{"f":6.5,"p":0.003},{"f":6.7,"p":0.067},{"f":6.9,"p":0.003},{"f":7.3,"p":0.002},{"f":8,"p":0.001},{"f":9,"p":0.002},{"f":10,"p":0.003},{"f":10.5,"p":0.001},{"f":11.5,"p":0.002},{"f":12.5,"p":0.001},{"f":13.5,"p":0.002},{"f":14.2,"p":0.004},{"f":14.6,"p":0.002},{"f":15.5,"p":0.003},{"f":16,"p":0.002},{"f":16.5,"p":0.02},{"f":16.8,"p":0.026},{"f":17.0,"p":0.004},{"f":17.5,"p":0.002},{"f":18.5,"p":0.001},{"f":19.5,"p":0.002},{"f":20.3,"p":0.003},{"f":21,"p":0.001},{"f":22,"p":0.002},{"f":23,"p":0.001},{"f":24,"p":0.002},{"f":25,"p":0.001},{"f":26,"p":0.002},{"f":27,"p":0.001},{"f":28,"p":0.001},{"f":29,"p":0.002},{"f":30,"p":0.001},{"f":31.4,"p":0.005},{"f":31.7,"p":0.002},{"f":33,"p":0.001},{"f":34.5,"p":0.002},{"f":36,"p":0.001},{"f":38,"p":0.001},{"f":40,"p":0.001},{"f":42,"p":0.001},{"f":44,"p":0.002},{"f":46,"p":0.001},{"f":48,"p":0.001},{"f":50,"p":0.001},{"f":52,"p":0.002},{"f":54,"p":0.002},{"f":55.5,"p":0.003},{"f":56.5,"p":0.002},{"f":57.5,"p":0.002},{"f":58.5,"p":0.002},{"f":59.1,"p":0.005},{"f":59.4,"p":0.014},{"f":59.7,"p":0.006},{"f":60.1,"p":0.009},{"f":60.5,"p":0.005},{"f":60.9,"p":0.01},{"f":61.3,"p":0.007},{"f":61.7,"p":0.024},{"f":62.0,"p":0.012},{"f":62.3,"p":0.018},{"f":62.6,"p":0.01},{"f":62.9,"p":0.043},{"f":63.1,"p":0.02},{"f":63.4,"p":0.027},{"f":63.7,"p":0.012},{"f":64.0,"p":0.024},{"f":64.3,"p":0.01},{"f":64.6,"p":0.02},{"f":64.9,"p":0.008},{"f":65.2,"p":0.025},{"f":65.5,"p":0.012},{"f":65.8,"p":0.026},{"f":66.1,"p":0.01},{"f":66.4,"p":0.02},{"f":66.7,"p":0.014},{"f":67.0,"p":0.022},{"f":67.2,"p":0.059},{"f":67.4,"p":0.015},{"f":67.7,"p":0.019},{"f":68.0,"p":0.01},{"f":68.3,"p":0.016},{"f":68.6,"p":0.008},{"f":69.0,"p":0.012},{"f":69.4,"p":0.006},{"f":69.8,"p":0.008},{"f":70.3,"p":0.004},{"f":70.8,"p":0.005},{"f":71.5,"p":0.003},{"f":72.2,"p":0.002},{"f":73,"p":0.001},{"f":74,"p":0},{"f":140,"p":0}
]
},
"columns":2,
"spacing":{"row":104,"column":108},
"bounds":"flush",
"concat":[
{"width":549,"height":262,"title":"Time-History - Attached Node","data":{"name":"th"},
 "mark":{"type":"line","color":"black","strokeWidth":1.4,"clip":true},
 "encoding":{
  "x":{"field":"t","type":"quantitative","scale":{"domain":[0,58.7],"nice":false,"zero":false},"axis":{"values":[0,10,20,30,40,50],"title":"Time (Sec)"}},
  "y":{"field":"a","type":"quantitative","scale":{"domain":[-5,5],"nice":false},"axis":{"values":[-5,-2.5,0,2.5,5],"title":"Acceleration (mg)"}}}},
{"width":536,"height":262,"title":"Power Spectral Density - Attached Node","data":{"name":"psdA"},
 "mark":{"type":"line","color":"black","strokeWidth":1.2,"clip":true},
 "encoding":{
  "x":{"field":"f","type":"quantitative","scale":{"domain":[0,140],"nice":false},"axis":{"values":[0,20,40,60,80,100,120,140],"title":"Frequency (Hz)"}},
  "y":{"field":"p","type":"quantitative","scale":{"domain":[0,1.25],"nice":false},"axis":{"values":[0,0.2,0.4,0.6,0.8,1,1.2],"title":"PSD (mg²/Hz)","titlePadding":12}}}},
{"width":549,"height":262,"title":"Time-History - Reference Node","data":{"name":"th"},
 "mark":{"type":"line","color":"black","strokeWidth":1.4,"clip":true},
 "encoding":{
  "x":{"field":"t","type":"quantitative","scale":{"domain":[0,58.7],"nice":false,"zero":false},"axis":{"values":[0,10,20,30,40,50],"title":"Time (Sec)"}},
  "y":{"field":"r","type":"quantitative","scale":{"domain":[-5,5],"nice":false},"axis":{"values":[-5,-2.5,0,2.5,5],"title":"Acceleration (mg)"}}}},
{"width":536,"height":262,"title":"Power Spectral Density - Reference Node","data":{"name":"psdR"},
 "mark":{"type":"line","color":"black","strokeWidth":1.2,"clip":true},
 "encoding":{
  "x":{"field":"f","type":"quantitative","scale":{"domain":[0,140],"nice":false},"axis":{"values":[0,20,40,60,80,100,120,140],"title":"Frequency (Hz)","titlePadding":15}},
  "y":{"field":"p","type":"quantitative","scale":{"domain":[0,0.25],"nice":false},"axis":{"values":[0,0.05,0.1,0.15,0.2,0.25],"title":"PSD (mg²/Hz)","titlePadding":8}}}}
]
}
